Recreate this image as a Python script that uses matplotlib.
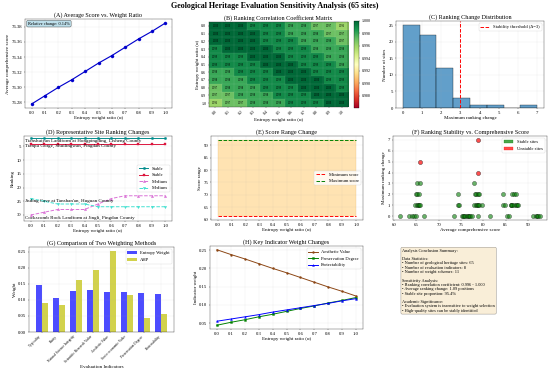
import matplotlib
matplotlib.use("Agg")
import matplotlib.pyplot as plt
import matplotlib.patches as mpatches
import numpy as np

plt.rcParams['font.family'] = ['Liberation Serif', 'DejaVu Serif']
plt.rcParams['font.size'] = 13
plt.rcParams['xtick.labelsize'] = 12.5
plt.rcParams['ytick.labelsize'] = 12.5

W, H, DPI = 550, 371, 27.5

# ---- data ----
ALPHAS = [0.0, 0.1, 0.2, 0.3, 0.4, 0.5, 0.6, 0.7, 0.8, 0.9, 1.0]
ALPHA_LABELS = ["0.0", "0.1", "0.2", "0.3", "0.4", "0.5", "0.6", "0.7", "0.8", "0.9", "1.0"]

AVG_SCORE = [76.278, 76.289, 76.300, 76.310, 76.321, 76.332,
             76.342, 76.353, 76.364, 76.374, 76.385]

CORR = [
    [1.000, 1.000, 1.000, 0.999, 0.999, 0.999, 0.998, 0.998, 0.997, 0.997, 0.996],
    [1.000, 1.000, 1.000, 1.000, 0.999, 0.999, 0.998, 0.998, 0.998, 0.997, 0.997],
    [1.000, 1.000, 1.000, 1.000, 0.999, 0.999, 0.999, 0.998, 0.998, 0.998, 0.997],
    [0.999, 1.000, 1.000, 1.000, 1.000, 0.999, 0.999, 0.999, 0.998, 0.998, 0.998],
    [0.999, 0.999, 0.999, 1.000, 1.000, 1.000, 0.999, 0.999, 0.999, 0.998, 0.998],
    [0.999, 0.999, 0.999, 0.999, 1.000, 1.000, 1.000, 0.999, 0.999, 0.999, 0.998],
    [0.998, 0.998, 0.999, 0.999, 0.999, 1.000, 1.000, 1.000, 0.999, 0.999, 0.999],
    [0.998, 0.998, 0.998, 0.999, 0.999, 0.999, 1.000, 1.000, 1.000, 0.999, 0.999],
    [0.997, 0.998, 0.998, 0.998, 0.999, 0.999, 0.999, 1.000, 1.000, 1.000, 0.999],
    [0.997, 0.997, 0.998, 0.998, 0.998, 0.999, 0.999, 0.999, 1.000, 1.000, 1.000],
    [0.996, 0.997, 0.997, 0.998, 0.998, 0.998, 0.999, 0.999, 0.999, 1.000, 1.000],
]

# per-site average score and maximum ranking change (65 sites)
SITE_SCORE = [
    61.3, 63.4, 63.9, 64.5, 64.9, 66.7, 73.3, 75.2, 75.5, 75.7, 75.9, 76.3, 76.5,
    76.7, 77.0, 77.4, 78.7, 81.4, 85.4, 85.8, 91.2, 91.7, 92.0, 92.2, 92.7,
    64.7, 65.1, 65.3, 65.5, 65.8, 74.2, 74.5, 77.9, 78.3, 78.5, 78.7, 79.1, 79.6,
    84.4, 84.8, 86.1, 86.3, 86.5, 86.9, 87.3, 87.5, 87.7,
    64.9, 65.2, 65.6, 74.2, 78.1, 78.4, 78.7, 79.0, 84.4, 86.5, 86.9, 87.3,
    65.2, 65.8, 78.0,
    78.7, 65.7, 78.9,
]
SITE_CHANGE = [0] * 25 + [1] * 22 + [2] * 12 + [3] * 3 + [4, 5, 7]

SITE_NAMES = [
    "Tianshuiyan Landform at Hongpingding, Lisheng County",
    "Tianpu Gorge, Shuilingwan, Pingdan County",
    "Cockscomb Rock Landform at Jingli, Pingdan County",
    "Jiuling Cave at Tanshan'an, Huguan County",
]
SITE_KIND = ["Stable", "Stable", "Medium", "Medium"]
RANK_A = [2, 2, 2, 2, 2, 2, 2, 2, 2, 2, 2]
RANK_B = [4, 4, 4, 4, 4, 4, 4, 4, 4, 4, 4]
RANK_C = [30, 29, 28, 28, 28, 26, 24, 23, 23, 23, 23]
RANK_D = [24, 25, 26, 26, 26, 27, 27, 27, 27, 27, 27]

MIN_SCORE = [61.3, 61.3, 61.3, 61.3, 61.3, 61.3, 61.3, 61.3, 61.3, 61.3, 61.3]
MAX_SCORE = [92.3, 92.3, 92.3, 92.3, 92.3, 92.3, 92.3, 92.3, 92.3, 92.3, 92.3]

INDICATORS = ["Typicality", "Rarity", "Natural Science Integrity",
              "Scientific Research Value", "Aesthetic Value",
              "Socio-economic Value", "Preservation Degree", "Protectability"]
W_ENTROPY = [0.146, 0.107, 0.127, 0.131, 0.123, 0.123, 0.120, 0.117]
W_AHP = [0.091, 0.083, 0.161, 0.194, 0.252, 0.115, 0.044, 0.055]

W_AESTHETIC = [0.251, 0.238, 0.226, 0.213, 0.200, 0.188, 0.175, 0.162, 0.149, 0.137, 0.124]
W_PRESERV = [0.044, 0.052, 0.059, 0.067, 0.074, 0.082, 0.090, 0.097, 0.105, 0.112, 0.120]
W_PROTECT = [0.055, 0.061, 0.067, 0.073, 0.080, 0.086, 0.092, 0.098, 0.104, 0.111, 0.117]

SUMMARY = (
    "Analysis Conclusion Summary:\n\n"
    "Data Statistics:\n"
    "• Number of geological heritage sites: 65\n"
    "• Number of evaluation indicators: 8\n"
    "• Number of weight schemes: 11\n\n"
    "Sensitivity Analysis:\n"
    "• Ranking correlation coefficient: 0.996 - 1.000\n"
    "• Average ranking change: 1.09 positions\n"
    "• Stable site proportion: 95.4%\n\n"
    "Academic Significance:\n"
    "• Evaluation system is insensitive to weight selection\n"
    "• High-quality sites can be stably identified"
)

TITLE_FS = 16
LABEL_FS = 13
LEGEND_FS = 12


def rect(l, t, r, b):
    return [l / W, 1 - b / H, (r - l) / W, (b - t) / H]


def main():
    fig = plt.figure(figsize=(W / DPI, H / DPI), dpi=DPI)
    fig.suptitle("Geological Heritage Evaluation Sensitivity Analysis (65 sites)",
                 fontsize=21, fontweight="bold", y=0.995)

    # ---- (A) ----
    ax = fig.add_axes(rect(25, 19, 172, 108))
    ax.plot(ALPHAS, AVG_SCORE, "o-", color="#0000cc", lw=3, ms=8)
    ax.set_title("(A) Average Score vs. Weight Ratio", fontsize=TITLE_FS)
    ax.set_xlabel("Entropy weight ratio (α)", fontsize=LABEL_FS)
    ax.set_ylabel("Average comprehensive score", fontsize=LABEL_FS)
    ax.set_xticks(ALPHAS)
    ax.grid(True, alpha=0.3)
    rel = (AVG_SCORE[-1] - AVG_SCORE[0]) / AVG_SCORE[0] * 100
    ax.text(0.02, 0.97, f"Relative change: {rel:.2f}%", transform=ax.transAxes,
            va="top", fontsize=11.5,
            bbox=dict(boxstyle="round", facecolor="lightblue", alpha=0.8))

    # ---- (B) ----
    ax = fig.add_axes(rect(209, 22, 348, 107))
    cax = fig.add_axes(rect(354, 21, 359, 108))
    corr = np.array(CORR)
    im = ax.imshow(corr, cmap="RdYlGn", vmin=0.986, vmax=1.0, aspect="auto")
    for i in range(corr.shape[0]):
        for j in range(corr.shape[1]):
            ax.text(j, i, f"{corr[i, j]:.3f}", ha="center", va="center", fontsize=7)
    ax.set_xticks(range(len(ALPHAS)))
    ax.set_xticklabels(ALPHA_LABELS, rotation=45, fontsize=10.5)
    ax.set_yticks(range(len(ALPHAS)))
    ax.set_yticklabels(ALPHA_LABELS, fontsize=10.5)
    ax.set_xticks(np.arange(-0.5, len(ALPHAS)), minor=True)
    ax.set_yticks(np.arange(-0.5, len(ALPHAS)), minor=True)
    ax.grid(which="minor", color="white", lw=0.5, alpha=0.4)
    ax.tick_params(which="minor", length=0)
    ax.set_title("(B) Ranking Correlation Coefficient Matrix", fontsize=TITLE_FS)
    ax.set_xlabel("Entropy weight ratio (α)", fontsize=LABEL_FS)
    ax.set_ylabel("Entropy weight ratio (α)", fontsize=LABEL_FS)
    cb = fig.colorbar(im, cax=cax)
    cb.set_ticks([0.988, 0.990, 0.992, 0.994, 0.996, 0.998, 1.000])
    cb.ax.yaxis.set_major_formatter(plt.FuncFormatter(lambda v, _: f"{v:.3f}"))
    cb.ax.tick_params(labelsize=10.5)

    # ---- (C) ----
    ax = fig.add_axes(rect(396, 21, 544, 108))
    ax.hist(SITE_CHANGE, bins=8, color="C0", alpha=0.7, edgecolor="black", lw=1.2)
    ax.axvline(3, color="red", ls="--", lw=2.5, label="Stability threshold (Δ=3)")
    ax.set_title("(C) Ranking Change Distribution", fontsize=TITLE_FS)
    ax.set_xlabel("Maximum ranking change", fontsize=LABEL_FS)
    ax.set_ylabel("Number of sites", fontsize=LABEL_FS)
    ax.legend(loc="upper right", fontsize=LEGEND_FS)
    ax.grid(True, alpha=0.3)

    # ---- (D) ----
    ax = fig.add_axes(rect(24, 136, 172, 221))
    styles = [("#008b8b", "o", "-"), ("#dc143c", "s", "-"),
              ("#da70d6", "^", "--"), ("#40e0d0", "v", "--")]
    ranks = [RANK_A, RANK_B, RANK_C, RANK_D]
    for rk, name, kind, (col, mk, ls) in zip(ranks, SITE_NAMES, SITE_KIND, styles):
        ax.plot(ALPHAS, rk, marker=mk, ls=ls, color=col, lw=2.5, ms=6, label=kind)
        ax.annotate(name, (ALPHAS[0], rk[0]), xytext=(-16, -7),
                    textcoords="offset points", fontsize=13, va="center")
    ax.set_ylim(32.2, 1.2)
    ax.set_xticks(ALPHAS)
    ax.set_title("(D) Representative Site Ranking Changes", fontsize=TITLE_FS)
    ax.set_xlabel("Entropy weight ratio (α)", fontsize=LABEL_FS)
    ax.set_ylabel("Ranking", fontsize=LABEL_FS)
    ax.legend(loc="center right", fontsize=LEGEND_FS)
    ax.grid(True, alpha=0.3)

    # ---- (E) ----
    ax = fig.add_axes(rect(211, 136, 363, 220))
    ax.fill_between(ALPHAS, MIN_SCORE, MAX_SCORE, color="orange", alpha=0.3)
    ax.plot(ALPHAS, MIN_SCORE, "r--", lw=2.5, label="Minimum score")
    ax.plot(ALPHAS, MAX_SCORE, "g--", lw=2.5, label="Maximum score")
    ax.set_xticks(ALPHAS)
    ax.set_title("(E) Score Range Change", fontsize=TITLE_FS)
    ax.set_xlabel("Entropy weight ratio (α)", fontsize=LABEL_FS)
    ax.set_ylabel("Score range", fontsize=LABEL_FS)
    ax.legend(loc="center right", fontsize=LEGEND_FS)
    ax.grid(True, alpha=0.3)

    # ---- (F) ----
    ax = fig.add_axes(rect(393, 136, 547, 220))
    score = np.array(SITE_SCORE)
    change = np.array(SITE_CHANGE)
    stable = change <= 3
    ax.scatter(score[stable], change[stable], s=120, c="green", alpha=0.6,
               edgecolors="black", linewidths=1.2)
    ax.scatter(score[~stable], change[~stable], s=120, c="red", alpha=0.7,
               edgecolors="black", linewidths=1.2)
    handles = [mpatches.Patch(color="green", alpha=0.7, label="Stable sites"),
               mpatches.Patch(color="red", alpha=0.7, label="Unstable sites")]
    ax.legend(handles=handles, loc="upper right", fontsize=LEGEND_FS)
    ax.set_title("(F) Ranking Stability vs. Comprehensive Score", fontsize=TITLE_FS)
    ax.set_xlabel("Average comprehensive score", fontsize=LABEL_FS)
    ax.set_ylabel("Maximum ranking change", fontsize=LABEL_FS)
    ax.grid(True, alpha=0.3)

    # ---- (G) ----
    ax = fig.add_axes(rect(29, 247, 174, 332))
    x = np.arange(len(INDICATORS))
    ax.bar(x - 0.175, W_ENTROPY, 0.35, color="blue", alpha=0.7, label="Entropy Weight")
    ax.bar(x + 0.175, W_AHP, 0.35, color="y", alpha=0.7, label="AHP")
    ax.set_xticks(x)
    ax.set_xticklabels(INDICATORS, rotation=45, ha="right", fontsize=9.5)
    ax.set_title("(G) Comparison of Two Weighting Methods", fontsize=TITLE_FS)
    ax.set_xlabel("Evaluation Indicators", fontsize=LABEL_FS)
    ax.set_ylabel("Weight", fontsize=LABEL_FS)
    ax.legend(loc="upper right", fontsize=LEGEND_FS)
    ax.grid(True, alpha=0.3)

    # ---- (H) ----
    ax = fig.add_axes(rect(210, 246, 363, 329))
    ax.plot(ALPHAS, W_AESTHETIC, "o-", color="#8b4513", lw=2.5, ms=5, label="Aesthetic Value")
    ax.plot(ALPHAS, W_PRESERV, "s-", color="green", lw=2.5, ms=5, label="Preservation Degree")
    ax.plot(ALPHAS, W_PROTECT, "^-", color="blue", lw=2.5, ms=5, label="Protectability")
    ax.set_xticks(ALPHAS)
    ax.set_title("(H) Key Indicator Weight Changes", fontsize=TITLE_FS)
    ax.set_xlabel("Entropy weight ratio (α)", fontsize=LABEL_FS)
    ax.set_ylabel("Indicator weight", fontsize=LABEL_FS)
    ax.legend(loc="upper right", fontsize=LEGEND_FS)
    ax.grid(True, alpha=0.3)

    # ---- (I) summary ----
    ax = fig.add_axes(rect(393, 246, 547, 332))
    ax.axis("off")
    ax.text(0.06, 0.97, SUMMARY, transform=ax.transAxes, va="top", fontsize=11.5,
            linespacing=1.1,
            bbox=dict(boxstyle="round", facecolor="wheat", alpha=0.5))

    fig.savefig("out.png", dpi=DPI, facecolor="white")
    plt.close(fig)


if __name__ == "__main__":
    main()
